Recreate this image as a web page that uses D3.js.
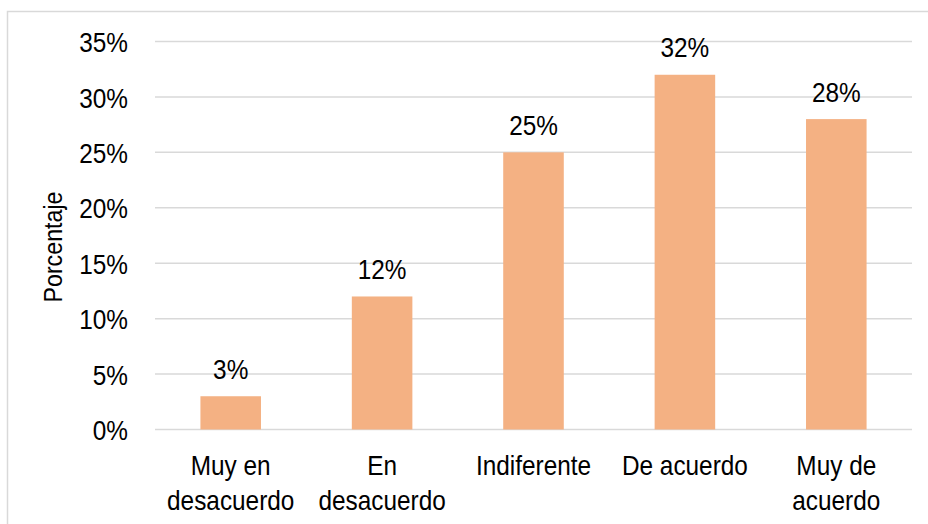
<!DOCTYPE html>
<html>
<head>
<meta charset="utf-8">
<script src="https://cdn.jsdelivr.net/npm/d3@7"></script>
<style>
  html, body { margin: 0; padding: 0; background: #fff; }
  svg { display: block; }
  text { font-family: "Liberation Sans Narrow", "Arial Narrow", "Liberation Sans", Arial, sans-serif; fill: #000; }
</style>
</head>
<body>
<svg id="chart" width="928" height="524"></svg>
<script>
const categories = [["Muy en", "desacuerdo"], ["En", "desacuerdo"], ["Indiferente"], ["De acuerdo"], ["Muy de", "acuerdo"]];
const values = [3, 12, 25, 32, 28];
const yTicks = [0, 5, 10, 15, 20, 25, 30, 35];
const yTitle = "Porcentaje";

const W = 928, H = 524;
const margin = { left: 155, right: 16, top: 41.5, bottom: 94.5 };
const FS = 28, SX = 0.87;   // narrow-look text
const svg = d3.select("#chart");

// outer border (left and top visible)
svg.append("rect")
  .attr("x", 7.5).attr("y", 11.5)
  .attr("width", W).attr("height", H)
  .attr("fill", "none").attr("stroke", "#d9d9d9").attr("stroke-width", 1.5);

const x = d3.scaleBand()
  .domain(d3.range(values.length))
  .range([margin.left, W - margin.right])
  .paddingInner(0.6).paddingOuter(0.3);

const y = d3.scaleLinear()
  .domain([0, 35])
  .range([H - margin.bottom, margin.top]);

// gridlines
svg.append("g")
  .selectAll("line")
  .data(yTicks)
  .join("line")
  .attr("x1", margin.left).attr("x2", W - margin.right)
  .attr("y1", d => y(d)).attr("y2", d => y(d))
  .attr("stroke", "#d9d9d9").attr("stroke-width", 1.5);

// y axis labels
const yAxis = d3.axisLeft(y).tickValues(yTicks).tickFormat(d => d + "%").tickSize(0).tickPadding(0);
const gy = svg.append("g").attr("transform", `translate(128,0)`).call(yAxis);
gy.select(".domain").remove();
gy.selectAll("text")
  .attr("x", 0)
  .attr("dy", "0.36em")
  .attr("font-size", FS).attr("font-family", null).attr("fill", "#000")
  .attr("transform", `scale(${SX},1)`);

// bars
svg.append("g")
  .selectAll("rect")
  .data(values)
  .join("rect")
  .attr("x", (d, i) => x(i))
  .attr("y", d => y(d))
  .attr("width", x.bandwidth())
  .attr("height", d => y(0) - y(d))
  .attr("fill", "#f4b183");

// data labels
svg.append("g")
  .selectAll("text")
  .data(values)
  .join("text")
  .attr("transform", (d, i) => `translate(${x(i) + x.bandwidth() / 2},${y(d) - 17.5}) scale(${SX},1)`)
  .attr("text-anchor", "middle")
  .attr("font-size", FS)
  .text(d => d + "%");

// category labels
const cat = svg.append("g")
  .selectAll("text")
  .data(categories)
  .join("text")
  .attr("transform", (d, i) => `translate(${x(i) + x.bandwidth() / 2},475) scale(${SX},1)`)
  .attr("text-anchor", "middle")
  .attr("font-size", FS);
cat.selectAll("tspan")
  .data(d => d)
  .join("tspan")
  .attr("x", 0)
  .attr("dy", (d, i) => i === 0 ? 0 : 35)
  .text(d => d);

// y title
svg.append("text")
  .attr("transform", `translate(62,247) rotate(-90) scale(0.93,1)`)
  .attr("text-anchor", "middle")
  .attr("font-size", 25)
  .text(yTitle);
</script>
</body>
</html>
